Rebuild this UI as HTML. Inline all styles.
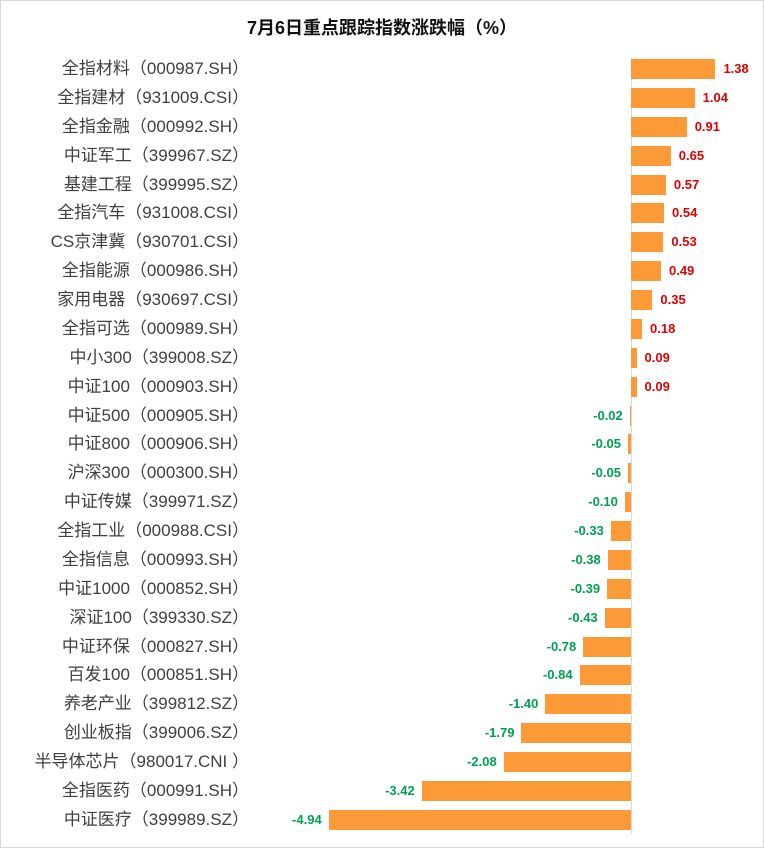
<!DOCTYPE html>
<html><head><meta charset="utf-8"><style>
body{margin:0;background:#fff}
#c{position:relative;width:762px;height:846px;border:1px solid #d9d9d9;overflow:hidden;font-family:"Liberation Sans","Noto Sans CJK SC",sans-serif}
.t{position:absolute;top:13px;left:0;width:762px;text-align:center;font-size:18px;font-weight:bold;color:#111}
.l{position:absolute;right:514px;font-size:17px;color:#404040;white-space:nowrap;line-height:20px;font-family:"Liberation Sans Narrow","Liberation Sans","Noto Sans CJK SC",sans-serif}
.b{position:absolute;height:20px;background:#fd9a38}
.v{position:absolute;font-size:13px;font-weight:bold;line-height:20px}
.p{color:#e00000}.n{color:#00a050}
#ax{position:absolute;left:630px;top:57px;width:1px;height:776px;background:#d9d9d9}
</style></head><body><div id="c">
<div class="t">7月6日重点跟踪指数涨跌幅（%）</div>
<div id="ax"></div>
<div id="rows"></div>
</div>
<script>
var d=[["全指材料（000987.SH）",1.38],["全指建材（931009.CSI）",1.04],["全指金融（000992.SH）",0.91],["中证军工（399967.SZ）",0.65],["基建工程（399995.SZ）",0.57],["全指汽车（931008.CSI）",0.54],["CS京津冀（930701.CSI）",0.53],["全指能源（000986.SH）",0.49],["家用电器（930697.CSI）",0.35],["全指可选（000989.SH）",0.18],["中小300（399008.SZ）",0.09],["中证100（000903.SH）",0.09],["中证500（000905.SH）",-0.02],["中证800（000906.SH）",-0.05],["沪深300（000300.SH）",-0.05],["中证传媒（399971.SZ）",-0.10],["全指工业（000988.CSI）",-0.33],["全指信息（000993.SH）",-0.38],["中证1000（000852.SH）",-0.39],["深证100（399330.SZ）",-0.43],["中证环保（000827.SH）",-0.78],["百发100（000851.SH）",-0.84],["养老产业（399812.SZ）",-1.40],["创业板指（399006.SZ）",-1.79],["半导体芯片（980017.CNI ）",-2.08],["全指医药（000991.SH）",-3.42],["中证医疗（399989.SZ）",-4.94]];
var h="",z=630,k=61.2;
d.forEach(function(r,i){var cy=68+i*28.88,top=cy-10,v=r[1],w=Math.abs(v)*k;
h+='<div class="l" style="top:'+top+'px">'+r[0]+'</div>';
if(v>=0){h+='<div class="b" style="left:'+z+'px;top:'+top+'px;width:'+w+'px"></div><div class="v p" style="left:'+(z+w+8)+'px;top:'+top+'px">'+v.toFixed(2)+'</div>';}
else{h+='<div class="b" style="left:'+(z-w)+'px;top:'+top+'px;width:'+w+'px"></div><div class="v n" style="right:'+(762-(z-w)+7)+'px;top:'+top+'px">'+v.toFixed(2)+'</div>';}
});
document.getElementById("rows").innerHTML=h;
</script>
</body></html>
